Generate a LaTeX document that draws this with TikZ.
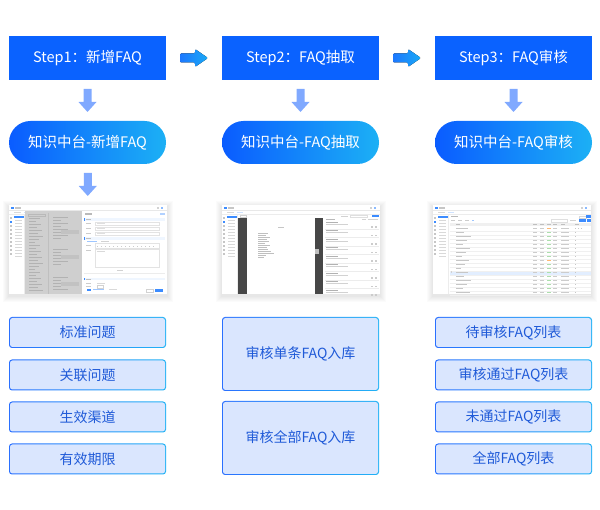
\documentclass[tikz,border=0pt]{standalone}
\usepackage{fontspec}
\setmainfont{Noto Sans CJK SC}
\usetikzlibrary{calc}
\definecolor{stepblue}{HTML}{0A62FF}
\definecolor{pillL}{HTML}{0A5CFF}
\definecolor{pillR}{HTML}{1CB0F5}
\definecolor{downarr}{HTML}{80A9FF}
\definecolor{arrL}{HTML}{1C78FF}
\definecolor{arrR}{HTML}{1AA9F5}
\definecolor{itemfill}{HTML}{DAE6FE}
\definecolor{itemL}{HTML}{2A70FF}
\definecolor{itemR}{HTML}{22B2F5}
\definecolor{itemtext}{HTML}{1F5AD8}
\definecolor{uiblue}{HTML}{3C8CFF}
\pgfdeclarelayer{bg}
\pgfsetlayers{bg,main}
\tikzset{
 stepbox/.style={fill=stepblue, minimum width=157pt, minimum height=44pt, inner sep=0pt, text=white, font=\fontsize{14.5}{16}\selectfont},
 pill/.style={rounded corners=21.5pt, left color=pillL, right color=pillR, minimum width=157pt, minimum height=43pt, inner sep=0pt, text=white, font=\fontsize{14.5}{17}\selectfont},
 item/.style={rounded corners=3pt, left color=itemL, right color=itemR, minimum width=157pt, inner sep=0pt, text=itemtext, font=\fontsize{14}{16}\selectfont,
   path picture={\fill[itemfill, rounded corners=2.5pt] ($(path picture bounding box.south west)+(1,-1)$) rectangle ($(path picture bounding box.north east)+(-1,1)$);}},
 shot/.style={fill=white, minimum width=158pt, minimum height=89pt, inner sep=0pt},
 downarrow/.pic={\fill[downarr] (-4,-11.5) -- (4,-11.5) -- (4,1.5) -- (9,1.5) -- (0,11.5) -- (-9,1.5) -- (-4,1.5) -- cycle;},
 rightarrow/.pic={\fill[left color=arrL, right color=arrR, rounded corners=1.2pt] (-14,-4.5) -- (1,-4.5) -- (1,-9) -- (14,0) -- (1,9) -- (1,4.5) -- (-14,4.5) -- cycle;},
 uiframe/.pic={
   \fill[uiblue] (2,1.8) rectangle (5,4.6);
   \fill[gray!45] (5.8,2.6) rectangle (12,3.8);
   \fill[gray!35] (148,2.2) rectangle (150.5,4.4);
   \fill[uiblue!60] (152,2.2) rectangle (154.5,4.4);
   \draw[gray!18, line width=0.4pt] (0,5.8) -- (158,5.8);
   \fill[gray!30] (5,7.2) rectangle (12,8.6);
   \fill[uiblue!25] (15,7.2) rectangle (21,8.6);
   \draw[gray!15, line width=0.4pt] (0,9.6) -- (158,9.6);
   \foreach \y in {12,16,...,48} \fill[gray!45] (1.3,\y) rectangle (3.3,\y+1.8);
   \fill[uiblue] (1.3,16) rectangle (3.3,17.8);
   \fill[uiblue] (5,11.5) rectangle (15,13.6);
   \foreach \y in {15,18,...,51} \fill[gray!30] (6,\y) rectangle (13,\y+1);
   \draw[gray!15, line width=0.4pt] (15.5,9.6) -- (15.5,89);
 }
}
\begin{document}
\begin{tikzpicture}[x=1pt,y=-1pt]
\useasboundingbox (0,0) rectangle (600,510);

% step boxes
\node[stepbox] (s1) at (87.5,58) {Step1：新增FAQ};
\node[stepbox] (s2) at (300.5,58) {Step2：FAQ抽取};
\node[stepbox] (s3) at (513.5,58) {Step3：FAQ审核};

% pills
\node[pill] (p1) at (87.5,142.5) {知识中台-新增FAQ};
\node[pill] (p2) at (300.5,142.5) {知识中台-FAQ抽取};
\node[pill] (p3) at (513.5,142.5) {知识中台-FAQ审核};

% screenshots
\node[shot] (sh1) at (88,249.5) {};
\node[shot] (sh2) at (301,249.5) {};
\node[shot] (sh3) at (512,249.5) {};

\begin{pgfonlayer}{bg}
\foreach \s in {sh1,sh2,sh3}
  \foreach \i in {1,...,6}
    \fill[black,opacity=0.014] ($(\s.north west)+(-\i,-\i+2)$) rectangle ($(\s.south east)+(\i,\i+2)$);
\end{pgfonlayer}

% arrows
\coordinate (r12) at ($(s1.east)!0.5!(s2.west)$);
\coordinate (r23) at ($(s2.east)!0.5!(s3.west)$);
\pic at (r12) {rightarrow};
\pic at (r23) {rightarrow};
\coordinate (d1) at ($(s1.south)!0.5!(p1.north)$);
\coordinate (d2) at ($(s2.south)!0.5!(p2.north)$);
\coordinate (d3) at ($(s3.south)!0.5!(p3.north)$);
\coordinate (d4) at ($(p1.south)!0.5!(sh1.north)$);
\pic at (d1) {downarrow};
\pic at (d2) {downarrow};
\pic at (d3) {downarrow};
\pic at (d4) {downarrow};

% ---------- screenshot 1 ----------
\begin{scope}[shift={(sh1.north west)}]
  \pic at (0,0) {uiframe};
  \fill[gray!38] (16,6) rectangle (73,89);
  \draw[gray!55, line width=0.4pt] (19,9) rectangle (36,11);
  \foreach \y [count=\k] in {13,16,...,87} {
    \pgfmathsetmacro\w{6+mod(\k*5,9)}
    \fill[gray!60] (20,\y) rectangle (20+\w,\y+1);
  }
  \draw[gray!50, line width=0.4pt] (39,8) -- (39,89);
  \foreach \y [count=\k] in {12,15,18,21,24,27,30,33,44,47,50,53,56,59,72,75,78,81,84} {
    \pgfmathsetmacro\w{8+mod(\k*7,14)}
    \fill[gray!60] (44,\y) rectangle (44+\w,\y+1);
  }
  \fill[gray!48] (52,25) rectangle (70,29);
  \fill[gray!48] (52,50) rectangle (70,54);
  \fill[gray!48] (52,77) rectangle (70,81);
  \fill[white] (73,6) rectangle (158,89);
  \fill[gray!55] (76,8.5) rectangle (83,10);
  \fill[uiblue!40] (151,8.5) rectangle (156,10);
  \foreach \y in {13.5,32.5,73} {
    \fill[uiblue!8] (75,\y) rectangle (156,\y+2.5);
    \fill[uiblue] (75,\y) rectangle (75.8,\y+2.5);
    \fill[gray!50] (77,\y+0.8) rectangle (82,\y+1.7);
  }
  \foreach \y in {18.5,23,28} {
    \fill[gray!40] (77,\y) rectangle (82,\y+1);
    \draw[gray!22, line width=0.4pt] (86,\y-1) rectangle (150,\y+2);
    \fill[gray!25] (88,\y) rectangle (96,\y+1);
  }
  \fill[uiblue!50] (78,36.5) rectangle (88,37.5);
  \fill[gray!35] (92,36.5) rectangle (100,37.5);
  \fill[gray!40] (77,40) rectangle (82,41);
  \draw[gray!22, line width=0.4pt] (86,38.5) rectangle (150,43);
  \foreach \x in {88,92,...,144} \fill[gray!40] (\x,41) rectangle (\x+1.5,42);
  \fill[gray!40] (77,45) rectangle (82,46);
  \draw[gray!22, line width=0.4pt] (86,44) rectangle (150,62);
  \fill[gray!30] (88,46) rectangle (96,47);
  \fill[gray!35] (108,65.5) rectangle (114,66.5);
  \draw[gray!15, line width=0.4pt] (75,68) -- (156,68);
  \foreach \y in {78,81.5} \fill[gray!40] (77,\y) rectangle (82,\y+1);
  \fill[gray!30] (88,78) rectangle (96,79);
  \draw[gray!35, line width=0.4pt] (88,80.8) rectangle (94,83.2);
  \fill[uiblue] (78,84.2) rectangle (82,86);
  \fill[uiblue!50] (84,84.5) rectangle (95,85.5);
  \fill[gray!30] (100,84.5) rectangle (108,85.5);
  \draw[gray!35, line width=0.4pt] (137,84.3) rectangle (144,87.3);
  \fill[uiblue] (146,84.3) rectangle (154,87.3);
\end{scope}

% ---------- screenshot 2 ----------
\begin{scope}[shift={(sh2.north west)}]
  \pic at (0,0) {uiframe};
  \draw[gray!35, line width=0.4pt] (18,10.2) rectangle (24,12.4);
  \fill[gray!35] (119,10.8) rectangle (126,11.8);
  \draw[gray!25, line width=0.4pt] (128,10.2) rectangle (145,12.4);
  \fill[uiblue] (150,9.8) rectangle (157,12.6);
  \fill[black!72] (16,13) rectangle (25,89);
  \fill[black!72] (93,13) rectangle (101,89);
  \fill[white] (25,13) rectangle (93,89);
  \fill[gray!50] (93.5,44) rectangle (97.5,49);
  \fill[gray!45] (56,22.5) rectangle (62,23.5);
  \foreach \y/\w in {28/10,30/8,32/12,34/9,36/11,38/7,40/12,42/9,44/10,46/13,48/16,50/8,52/6}
    \fill[gray!50] (36,\y) rectangle (36+\w,\y+0.8);
  \fill[gray!55] (104,14) rectangle (113,15);
  \fill[gray!35] (140,14) rectangle (144,15);
  \fill[gray!35] (146,14) rectangle (156,15);
  \foreach \y in {17,25.5,34,42.5,51,59.5,68,76.5,85} {
    \fill[gray!60] (104,\y) rectangle (116,\y+1);
    \fill[gray!35] (104,\y+2.2) rectangle (126,\y+3.2);
    \fill[gray!40] (149,\y+4.6) rectangle (151,\y+5.8);
    \fill[gray!40] (153.5,\y+4.6) rectangle (155.5,\y+5.8);
    \draw[gray!15, line width=0.4pt] (103,\y+7.2) -- (157,\y+7.2);
  }
\end{scope}

% ---------- screenshot 3 ----------
\begin{scope}[shift={(sh3.north west)}]
  \pic at (0,0) {uiframe};
  \fill[gray!55] (18,11.5) rectangle (25,12.7);
  \draw[gray!30, line width=0.4pt] (146,11) rectangle (153,13.5);
  \fill[uiblue] (153.5,10.5) rectangle (158,13.5);
  \foreach \x in {18,25,32} \fill[gray!40] (\x,15.3) rectangle (\x+4.5,16.4);
  \fill[uiblue!50] (39,15) rectangle (41.5,16.7);
  \draw[gray!25, line width=0.4pt] (118,14.3) rectangle (134,17);
  \fill[gray!35] (137,15) rectangle (143,16.4);
  \fill[uiblue] (146,14.2) rectangle (153,17.2);
  \fill[uiblue] (154.5,14.2) rectangle (158,17.2);
  \fill[gray!12] (17,18.5) rectangle (158,21.5);
  \foreach \x in {23,100,107,114,120,128,142} \fill[gray!50] (\x,19.5) rectangle (\x+4,20.5);
  \fill[uiblue!15] (17,66) rectangle (158,70);
  \foreach \y [count=\k] in {22,26,...,86} {
    \pgfmathsetmacro\w{5+mod(\k*7,11)}
    \fill[gray!45] (23,\y+1.5) rectangle (23+\w,\y+2.4);
    \fill[gray!40] (100,\y+1.5) rectangle (104,\y+2.4);
    \fill[gray!40] (107,\y+1.5) rectangle (111,\y+2.4);
    \fill[green!45!gray!45] (114,\y+1.4) rectangle (118,\y+2.5);
    \fill[gray!40] (120,\y+1.5) rectangle (124,\y+2.4);
    \fill[gray!40] (128,\y+1.5) rectangle (136,\y+2.4);
    \fill[gray!45] (142,\y+1.5) rectangle (143.5,\y+2.4);
    \draw[gray!12, line width=0.3pt] (17,\y+4) -- (158,\y+4);
  }
  \fill[orange!55] (114,23.4) rectangle (118,24.5);
  \fill[orange!55] (114,55.4) rectangle (118,56.5);
  \fill[gray!45] (145,23.5) rectangle (146.5,24.4);
  \fill[gray!45] (148,23.5) rectangle (149.5,24.4);
  \fill[gray!35] (18,66.5) rectangle (19.5,68.5);
\end{scope}

% bottom items
\node[item, minimum height=31pt] (a1) at (87.5,332.5) {标准问题};
\node[item, minimum height=31pt] (a2) at (87.5,375) {关联问题};
\node[item, minimum height=31pt] (a3) at (87.5,417) {生效渠道};
\node[item, minimum height=31pt] (a4) at (87.5,459) {有效期限};
\node[item, minimum height=74pt] (b1) at (300.5,354) {审核单条FAQ入库};
\node[item, minimum height=74pt] (b2) at (300.5,438) {审核全部FAQ入库};
\node[item, minimum height=31pt] (c1) at (513.5,332.5) {待审核FAQ列表};
\node[item, minimum height=31pt] (c2) at (513.5,375) {审核通过FAQ列表};
\node[item, minimum height=31pt] (c3) at (513.5,417) {未通过FAQ列表};
\node[item, minimum height=31pt] (c4) at (513.5,459) {全部FAQ列表};
\end{tikzpicture}
\end{document}
